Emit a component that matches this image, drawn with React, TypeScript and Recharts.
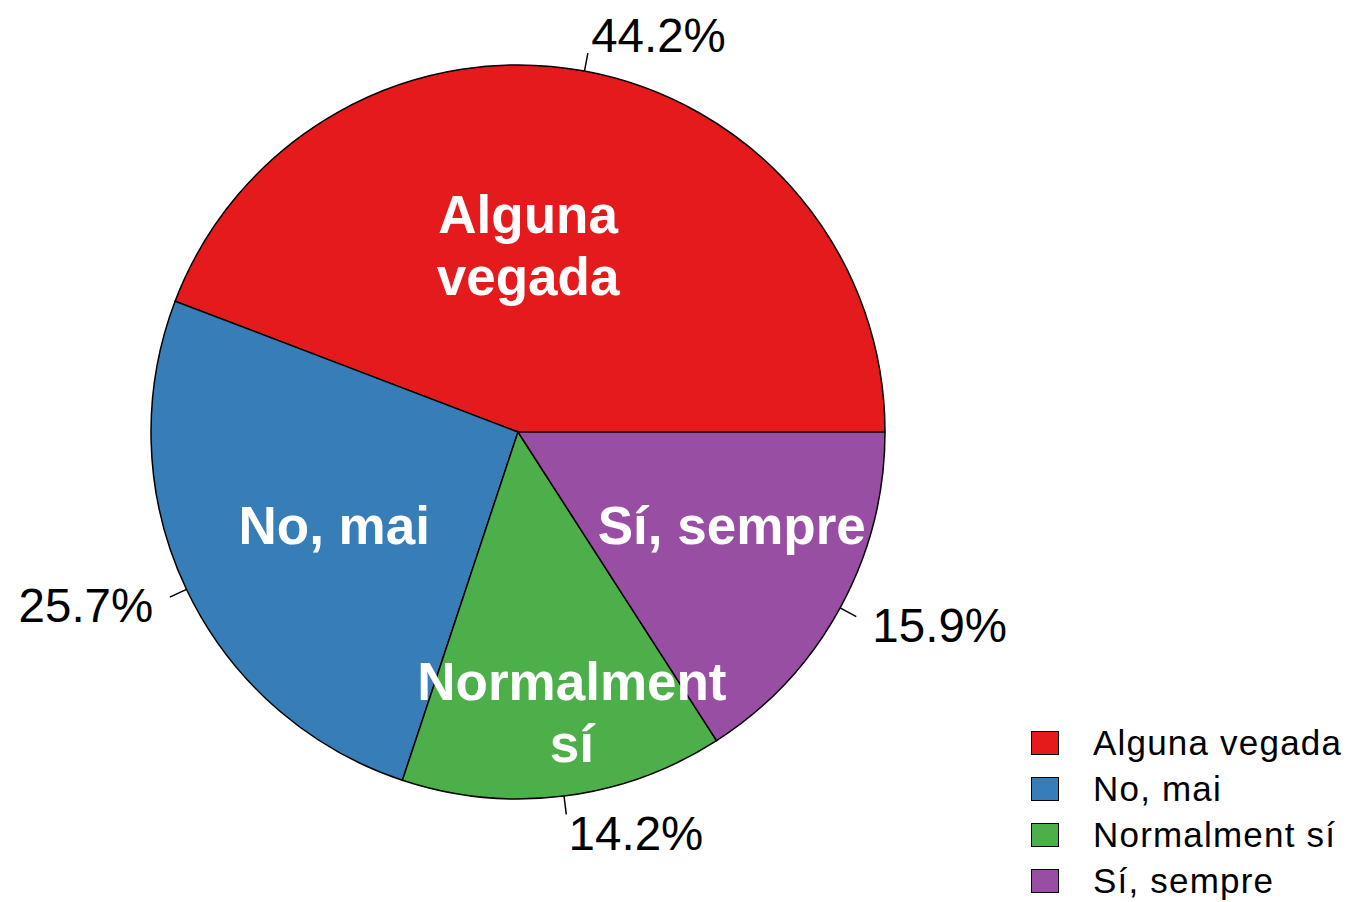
import * as React from "react";
import { Cell, Legend, Pie, PieChart } from "recharts";

const categories = ["Alguna vegada", "No, mai", "Normalment sí", "Sí, sempre"];
const shares = [44.2, 25.7, 14.2, 15.9];
const sliceLabels = [["Alguna", "vegada"], ["No, mai"], ["Normalment", "sí"], ["Sí, sempre"]];

const COLORS = ["#E41A1C", "#377EB8", "#4DAF4A", "#984EA3"];
const FONT = '"Liberation Sans", Arial, Helvetica, sans-serif';

// where the white labels sit inside each slice: angle (deg) and fraction of radius
const INNER_POS = [
  { angle: 86.9, r: 0.51 },
  { angle: 206.8, r: 0.561 },
  { angle: 280.9, r: 0.777 },
  { angle: 336.5, r: 0.635 },
];

const RADIAN = Math.PI / 180;

type LabelProps = {
  cx: number;
  cy: number;
  midAngle: number;
  outerRadius: number;
  index: number;
  value: number;
};

function renderLabel({ cx, cy, midAngle, outerRadius, index, value }: LabelProps) {
  const cos = Math.cos(-midAngle * RADIAN);
  const sin = Math.sin(-midAngle * RADIAN);
  const x1 = cx + outerRadius * cos;
  const y1 = cy + outerRadius * sin;
  const x2 = cx + outerRadius * 1.05 * cos;
  const y2 = cy + outerRadius * 1.05 * sin;
  const tx = cx + outerRadius * 1.1 * cos;
  const ty = cy + outerRadius * 1.1 * sin;

  const pos = INNER_POS[index];
  const ix = cx + outerRadius * pos.r * Math.cos(-pos.angle * RADIAN);
  const iy = cy + outerRadius * pos.r * Math.sin(-pos.angle * RADIAN);
  const lines = sliceLabels[index];
  const lineGap = 62;
  const firstY = iy - ((lines.length - 1) * lineGap) / 2;

  return (
    <g>
      <line x1={x1} y1={y1} x2={x2} y2={y2} stroke="#000" strokeWidth={1.5} />
      <text
        x={tx}
        y={ty + 17}
        textAnchor={cos >= 0 ? "start" : "end"}
        fontFamily={FONT}
        fontSize={47.5}
        fill="#000"
      >
        {value.toFixed(1)}%
      </text>
      {lines.map((line, i) => (
        <text
          key={line}
          x={ix}
          y={firstY + i * lineGap + 19}
          textAnchor="middle"
          fontFamily={FONT}
          fontWeight="bold"
          fontSize={53}
          fill="#fff"
        >
          {line}
        </text>
      ))}
    </g>
  );
}

function LegendBox() {
  return (
    <div style={{ fontFamily: FONT, fontSize: 35, letterSpacing: 1.2, color: "#000" }}>
      {categories.map((name, i) => (
        <div key={name} style={{ display: "flex", alignItems: "center", height: 46 }}>
          <span
            style={{
              display: "inline-block",
              width: 26,
              height: 22,
              background: COLORS[i],
              border: "1.5px solid #000",
              marginRight: 34,
            }}
          />
          <span>{name}</span>
        </div>
      ))}
    </div>
  );
}

export default function App() {
  const data = categories.map((name, i) => ({ name, value: shares[i] }));

  return (
    <div style={{ width: 1348, height: 902, background: "#fff", position: "relative" }}>
      <style>{`body{margin:0}`}</style>
      <PieChart width={1348} height={902} margin={{ top: 0, right: 0, bottom: 0, left: 0 }}>
        <Pie
          data={data}
          dataKey="value"
          nameKey="name"
          cx={518}
          cy={432}
          outerRadius={367}
          startAngle={0}
          endAngle={360}
          stroke="#000"
          strokeWidth={1.5}
          label={renderLabel}
          labelLine={false}
          isAnimationActive={false}
        >
          {data.map((d, i) => (
            <Cell key={d.name} fill={COLORS[i]} />
          ))}
        </Pie>
        <Legend
          content={() => <LegendBox />}
          wrapperStyle={{ position: "absolute", left: 1031, top: 720, width: 317 }}
        />
      </PieChart>
    </div>
  );
}
